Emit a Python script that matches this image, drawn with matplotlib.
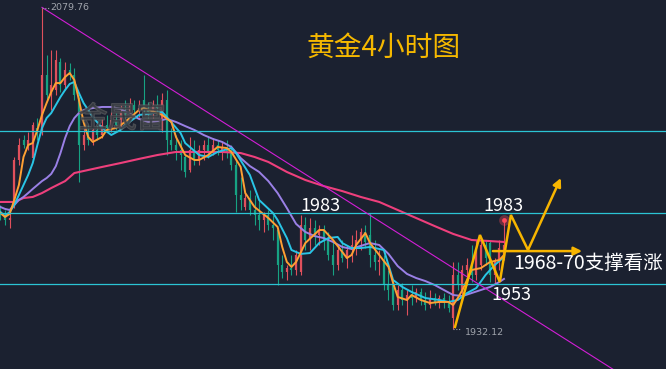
import matplotlib
matplotlib.use("Agg")
import matplotlib.pyplot as plt
import matplotlib.patheffects as pe

plt.rcParams['font.family'] = ['Noto Sans CJK SC', 'DejaVu Sans']

# 4h gold candles (open, high, low, close)
opens = [1985.9, 1984.5, 1982.2, 1990.0, 2009.8, 2019.0, 2016.7, 2010.7, 2024.5, 2023.6,
         2048.9, 2039.7, 2042.0, 2054.9, 2044.3, 2051.2, 2048.9, 2037.4, 2016.7, 2021.3,
         2019.0, 2023.6, 2021.3, 2025.9, 2024.5, 2028.2, 2025.9, 2031.9, 2030.5, 2035.1,
         2032.8, 2037.4, 2032.8, 2031.9, 2035.1, 2023.6, 2037.4, 2019.0, 2016.7, 2014.4,
         2011.2, 2005.2, 2014.4, 2009.8, 2014.4, 2016.7, 2013.5, 2016.7, 2014.4, 2015.3,
         2013.5, 2007.5, 1993.7, 1988.2, 1992.3, 1986.8, 1984.5, 1982.2, 1984.5, 1979.9,
         1977.6, 1961.5, 1958.3, 1960.1, 1959.2, 1958.3, 1979.9, 1973.0, 1978.5, 1975.3,
         1977.6, 1973.0, 1966.1, 1961.5, 1968.4, 1964.7, 1968.4, 1970.7, 1973.0, 1976.7,
         1975.3, 1966.1, 1962.9, 1963.8, 1952.3, 1952.3, 1943.1, 1950.0, 1945.4, 1947.7,
         1946.3, 1949.1, 1945.4, 1943.1, 1946.3, 1944.5, 1946.3, 1944.0, 1937.1, 1956.9,
         1950.0, 1959.2, 1961.5, 1956.9, 1961.5, 1970.7, 1971.6, 1956.9, 1962.9, 1965.6]
highs = [1989.1, 1986.8, 1985.9, 2011.2, 2019.9, 2021.3, 2022.7, 2027.3, 2029.1, 2079.76,
         2058.1, 2060.4, 2060.4, 2056.7, 2054.9, 2054.4, 2052.1, 2038.8, 2024.5, 2025.9,
         2024.5, 2025.9, 2029.1, 2030.5, 2031.9, 2031.4, 2035.1, 2037.4, 2038.3, 2037.4,
         2037.4, 2048.9, 2036.5, 2037.4, 2039.7, 2040.6, 2042.0, 2024.5, 2021.3, 2019.0,
         2012.1, 2020.4, 2019.0, 2016.7, 2019.0, 2020.4, 2019.9, 2019.0, 2018.1, 2019.0,
         2016.7, 2009.8, 2002.0, 1994.6, 1996.0, 1993.7, 1991.4, 1985.9, 1986.8, 1984.5,
         1978.5, 1966.1, 1961.5, 1966.1, 1968.4, 1984.5, 1983.6, 1983.1, 1982.2, 1979.9,
         1979.9, 1976.7, 1973.0, 1970.7, 1973.0, 1970.7, 1975.3, 1977.6, 1978.5, 1979.9,
         1985.4, 1973.0, 1968.4, 1966.1, 1959.2, 1954.6, 1952.3, 1953.2, 1950.0, 1952.3,
         1950.9, 1950.9, 1949.1, 1950.0, 1948.6, 1947.7, 1948.6, 1947.7, 1962.9, 1962.9,
         1961.5, 1964.7, 1970.7, 1973.0, 1973.9, 1973.0, 1973.0, 1964.7, 1973.0, 1982.2]
lows = [1982.2, 1979.9, 1978.5, 1987.7, 2007.5, 2015.3, 2014.4, 2009.8, 2019.0, 2021.3,
        2037.4, 2032.8, 2039.7, 2041.1, 2042.0, 2046.6, 2037.4, 1999.7, 2014.4, 2016.7,
        2016.7, 2019.0, 2019.9, 2022.7, 2022.7, 2023.6, 2024.5, 2028.2, 2029.1, 2030.5,
        2029.6, 2030.5, 2029.1, 2029.1, 2030.5, 2022.7, 2012.1, 2014.4, 2009.8, 2005.2,
        2002.0, 2004.3, 2007.5, 2007.5, 2009.8, 2010.7, 2012.1, 2012.1, 2009.8, 2010.7,
        2005.2, 1985.9, 1986.8, 1986.8, 1984.5, 1979.9, 1977.6, 1976.7, 1977.6, 1973.0,
        1952.3, 1955.5, 1954.6, 1956.9, 1956.9, 1956.9, 1968.4, 1968.4, 1970.7, 1970.7,
        1968.4, 1963.8, 1956.9, 1959.2, 1962.9, 1960.1, 1962.9, 1966.1, 1968.4, 1969.3,
        1960.6, 1959.2, 1956.9, 1950.0, 1945.4, 1940.8, 1940.8, 1943.1, 1938.5, 1943.1,
        1944.5, 1943.1, 1940.8, 1941.7, 1943.1, 1941.7, 1941.7, 1939.9, 1932.12, 1950.0,
        1945.4, 1952.3, 1953.7, 1954.6, 1959.2, 1961.5, 1953.7, 1953.2, 1959.2, 1963.8]
closes = [1984.5, 1982.2, 1983.1, 2009.8, 2016.7, 2016.7, 2019.0, 2025.9, 2022.7, 2048.9,
          2039.7, 2044.3, 2055.8, 2044.3, 2051.2, 2048.9, 2039.7, 2016.7, 2021.3, 2019.0,
          2023.6, 2021.3, 2025.9, 2024.5, 2028.2, 2025.9, 2031.9, 2030.5, 2035.1, 2032.8,
          2033.7, 2032.8, 2031.9, 2035.1, 2033.7, 2037.4, 2019.0, 2016.7, 2014.4, 2012.1,
          2004.3, 2014.4, 2009.8, 2014.4, 2016.7, 2013.5, 2016.7, 2014.4, 2015.3, 2013.5,
          2007.5, 1993.7, 1991.4, 1992.3, 1986.8, 1984.5, 1982.2, 1984.5, 1979.9, 1978.5,
          1961.5, 1958.3, 1960.1, 1959.2, 1966.1, 1979.9, 1973.0, 1978.5, 1975.3, 1977.6,
          1973.0, 1966.1, 1961.5, 1968.4, 1964.7, 1968.4, 1970.7, 1973.0, 1976.7, 1972.1,
          1966.1, 1962.9, 1963.8, 1952.3, 1950.0, 1943.1, 1950.0, 1945.4, 1947.7, 1946.3,
          1949.1, 1945.4, 1943.1, 1946.3, 1944.5, 1946.3, 1944.0, 1941.7, 1956.9, 1952.3,
          1959.2, 1961.5, 1956.9, 1968.4, 1970.7, 1964.7, 1956.9, 1962.9, 1969.3, 1970.7]

# moving averages, sampled at bar index
ma5_x = [0, 1, 2, 3, 4, 5, 6, 7, 8, 9, 10, 11, 12, 13, 14, 15, 16, 17, 18, 19, 20, 22, 23, 25,
         27, 30, 31, 34, 35, 37, 38, 40, 42, 43, 45, 47, 49, 50, 52, 53, 55, 58, 60, 61, 62,
         63, 64, 66, 69, 70, 72, 74, 75, 76, 77, 79, 80, 82, 84, 85, 86, 88, 89, 91, 93, 95,
         97, 98, 99, 100, 102, 104, 105, 106, 108, 109]
ma5_y = [1985.4, 1983.6, 1985.0, 1991.4, 1998.3, 2011.2, 2016.7, 2017.6, 2023.6, 2030.5,
         2036.0, 2041.1, 2045.2, 2045.2, 2048.0, 2049.8, 2046.6, 2037.4, 2027.3, 2020.4,
         2018.1, 2020.4, 2023.6, 2024.5, 2027.3, 2032.8, 2033.7, 2031.4, 2030.5, 2027.3,
         2020.4, 2012.1, 2009.8, 2009.8, 2012.1, 2015.8, 2015.3, 2013.5, 2006.6, 1994.6,
         1988.2, 1983.1, 1979.0, 1969.8, 1962.9, 1960.6, 1962.9, 1971.6, 1977.6, 1977.6,
         1973.0, 1967.5, 1964.7, 1966.1, 1970.7, 1976.2, 1971.6, 1966.1, 1960.6, 1953.2,
         1946.8, 1945.4, 1947.7, 1945.4, 1944.0, 1944.5, 1944.5, 1943.1, 1946.3, 1950.0,
         1959.2, 1960.1, 1961.5, 1962.9, 1963.8, 1966.1]
ma10_x = [0, 1, 2, 3, 4, 5, 6, 7, 8, 9, 10, 11, 12, 13, 14, 15, 16, 17, 18, 19, 20, 22, 24,
          26, 27, 30, 35, 36, 39, 40, 43, 45, 47, 50, 51, 54, 56, 59, 60, 62, 63, 65, 67, 69,
          71, 73, 74, 76, 78, 80, 83, 85, 87, 89, 92, 95, 97, 99, 101, 103, 105, 107, 109]
ma10_y = [1985.9, 1984.0, 1985.9, 1989.1, 1993.7, 1998.3, 2002.9, 2008.4, 2016.7, 2024.5,
          2029.1, 2031.4, 2035.1, 2038.8, 2042.0, 2044.8, 2045.7, 2040.6, 2036.0, 2032.8,
          2029.6, 2024.5, 2021.3, 2023.6, 2025.9, 2030.5, 2031.9, 2029.6, 2022.2, 2017.6,
          2012.1, 2011.2, 2013.5, 2015.3, 2013.0, 2002.9, 1991.4, 1985.4, 1982.2, 1973.9,
          1968.4, 1966.6, 1967.0, 1971.6, 1973.9, 1974.4, 1971.6, 1969.3, 1969.3, 1969.8,
          1968.4, 1954.6, 1951.4, 1949.1, 1946.3, 1945.4, 1944.5, 1945.4, 1948.6, 1950.9,
          1956.9, 1961.5, 1965.2]
ma20_x = [0, 1, 2, 3, 4, 5, 6, 7, 8, 9, 10, 11, 12, 13, 14, 15, 16, 17, 18, 20, 22, 24, 26,
          28, 30, 32, 34, 36, 38, 40, 42, 44, 46, 48, 50, 52, 54, 56, 58, 60, 62, 64, 66, 68,
          70, 72, 74, 76, 78, 80, 82, 84, 86, 88, 90, 92, 94, 96, 98, 100, 102, 104, 106, 108,
          109]
ma20_y = [1988.2, 1987.3, 1986.8, 1989.1, 1991.4, 1992.8, 1994.6, 1996.5, 1998.3, 2000.1,
          2001.5, 2003.4, 2007.0, 2013.0, 2019.9, 2025.4, 2029.1, 2031.4, 2032.8, 2033.7,
          2034.2, 2034.2, 2033.3, 2031.0, 2028.7, 2027.3, 2027.7, 2028.7, 2027.3, 2025.4,
          2023.6, 2021.3, 2019.5, 2018.1, 2015.8, 2010.7, 2007.0, 2004.3, 2000.1, 1994.6,
          1987.7, 1980.4, 1976.7, 1974.8, 1973.9, 1972.1, 1969.8, 1968.9, 1970.3, 1971.6,
          1970.7, 1966.6, 1961.0, 1957.4, 1955.5, 1954.1, 1952.3, 1950.0, 1947.7, 1947.2,
          1948.6, 1950.0, 1951.4, 1953.7, 1955.1]
ma60_x = [0, 3, 5, 7, 9, 11, 14, 16, 19, 22, 26, 30, 34, 38, 44, 48, 52, 55, 58, 62, 66, 70,
          74, 78, 82, 86, 90, 94, 98, 102, 106, 109]
ma60_y = [1990.5, 1990.5, 1992.3, 1992.8, 1994.6, 1996.9, 2000.1, 2003.8, 2005.2, 2006.6,
          2008.4, 2010.3, 2012.1, 2013.5, 2013.5, 2013.5, 2013.0, 2011.2, 2008.9, 2004.3,
          2000.6, 1997.8, 1995.5, 1992.8, 1990.5, 1986.8, 1983.1, 1979.4, 1975.8, 1973.0,
          1972.5, 1972.1]

# drawn lines on the chart
levels = [2023.1, 1985.4, 1952.8]
trend_x = [9, 133]
trend_y = [2080.0, 1913.0]
zig_x = [98.4, 103.8, 108.1, 110.5, 114.2, 121.3]
zig_y = [1933.0, 1975.3, 1953.7, 1984.5, 1968.4, 2001.5]
support_x = [106.6, 125.9]
support_y = [1967.9, 1967.9]

bg = '#1b2130'
up_c = '#e0505c'
dn_c = '#17a283'
gold = '#f7b500'

fig = plt.figure(figsize=(6.66, 3.69), dpi=100, facecolor=bg)
ax = fig.add_axes([0, 0, 1, 1])
ax.set_facecolor(bg)
ax.axis('off')

# candles
for i in range(len(opens)):
    col = up_c if closes[i] >= opens[i] else dn_c
    ax.vlines(i, lows[i], highs[i], color=col, lw=0.8)
    lo, hi = min(opens[i], closes[i]), max(opens[i], closes[i])
    if hi - lo < 0.6:
        hi = lo + 0.6
    ax.vlines(i, lo, hi, color=col, lw=1.6)

# moving averages
ax.plot(ma60_x, ma60_y, color='#ee3f7c', lw=1.5)
ax.plot(ma20_x, ma20_y, color='#9a80e6', lw=1.4)
ax.plot(ma10_x, ma10_y, color='#29c5e6', lw=1.4)
ax.plot(ma5_x, ma5_y, color='#ffa033', lw=1.4)

for lv in levels:
    ax.axhline(lv, color='#2bc4d4', lw=0.9)

ax.plot(trend_x, trend_y, color='#d21ed6', lw=0.8)

# last price glow
ax.scatter([109], [highs[-1]], s=60, color='#ff4a5a', alpha=0.35, zorder=5, lw=0)
ax.scatter([109], [highs[-1]], s=12, color='#ff4a5a', zorder=6, lw=0)

# forecast zigzag
ax.plot(zig_x[:-1], zig_y[:-1], color=gold, lw=1.8, solid_joinstyle='miter', zorder=7)
ax.annotate('', xy=(zig_x[-1], zig_y[-1]), xytext=(zig_x[-2], zig_y[-2]),
            arrowprops=dict(arrowstyle='-|>', color=gold, lw=1.8, mutation_scale=12,
                            shrinkA=0, shrinkB=0), zorder=7)
ax.annotate('', xy=(support_x[1], support_y[1]), xytext=(support_x[0], support_y[0]),
            arrowprops=dict(arrowstyle='-|>', color=gold, lw=1.8, mutation_scale=12,
                            shrinkA=0, shrinkB=0), zorder=7)

# texts
ax.text(83.0, 2061.3, '黄金4小时图', color='#f5b800', fontsize=20, ha='center', va='center')
ax.text(69.2, 1988.6, '1983', color='white', fontsize=13, ha='center', va='center')
ax.text(108.8, 1988.6, '1983', color='white', fontsize=13, ha='center', va='center')
ax.text(110.7, 1947.8, '1953', color='white', fontsize=13, ha='center', va='center')
ax.text(111.0, 1962.0, '1968-70支撑看涨', color='white', fontsize=14, ha='left', va='center')

# extreme price marks
ax.plot([9, 10.6], [highs[9], highs[9]], color='#9aa0aa', lw=0.8, ls=(0, (1, 1.5)))
ax.text(10.7, highs[9], '2079.76', color='#a0a4ac', fontsize=6.8, ha='left', va='center',
        family='DejaVu Sans')
ax.plot([98, 99.8], [lows[98], lows[98]], color='#9aa0aa', lw=0.8, ls=(0, (1, 1.5)))
ax.text(100.5, lows[98] - 1.5, '1932.12', color='#a0a4ac', fontsize=6.8, ha='left',
        va='center', family='DejaVu Sans')

# watermark
ax.text(26.3, 2028.5, '金晟富', color='#30343c', alpha=0.6, fontsize=21,
        ha='center', va='center', zorder=8,
        path_effects=[pe.withStroke(linewidth=1.2, foreground='#707070')])

ax.set_xlim(-0.09, 144.07)
ax.set_ylim(1913.66, 2083.4)

fig.savefig('out.png', dpi=100, facecolor=bg)
